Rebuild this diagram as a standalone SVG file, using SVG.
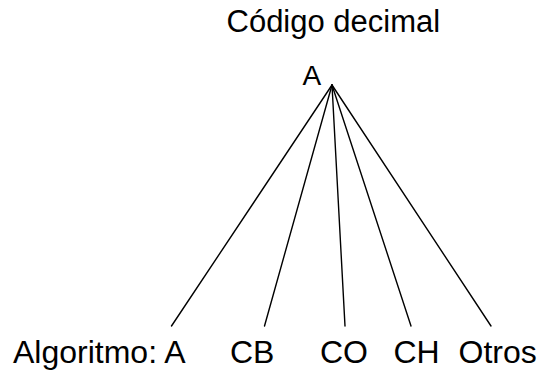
<svg xmlns="http://www.w3.org/2000/svg" width="540" height="371" viewBox="0 0 540 371">
  <style>
    text { font-family: "Liberation Sans", Arial, sans-serif; fill: #000; }
    .title { font-size: 31px; }
    .root { font-size: 28px; }
    .leaf { font-size: 32px; }
    .edge { stroke: #000; stroke-width: 1.4; fill: none; stroke-linecap: round; }
  </style>
  <rect width="540" height="371" fill="#fff"/>
  <text class="title" x="226.5" y="31.5">Código decimal</text>
  <g id="root"><text class="root" x="302.5" y="84.5">A</text></g>
  <g id="connectors">
    <line class="edge" x1="332" y1="85" x2="171.5" y2="326"/>
    <line class="edge" x1="332" y1="85" x2="264.5" y2="326"/>
    <line class="edge" x1="332" y1="85" x2="345" y2="326"/>
    <line class="edge" x1="332" y1="85" x2="411" y2="326"/>
    <line class="edge" x1="332" y1="85" x2="491" y2="326"/>
  </g>
  <g id="leaf-a"><text class="leaf" x="13" y="362.5">Algoritmo: A</text></g>
  <g id="leaf-cb"><text class="leaf" x="230" y="362.5">CB</text></g>
  <g id="leaf-co"><text class="leaf" x="320" y="362.5">CO</text></g>
  <g id="leaf-ch"><text class="leaf" x="393.5" y="362.5">CH</text></g>
  <g id="leaf-otros"><text class="leaf" x="458.5" y="362.5">Otros</text></g>
</svg>
